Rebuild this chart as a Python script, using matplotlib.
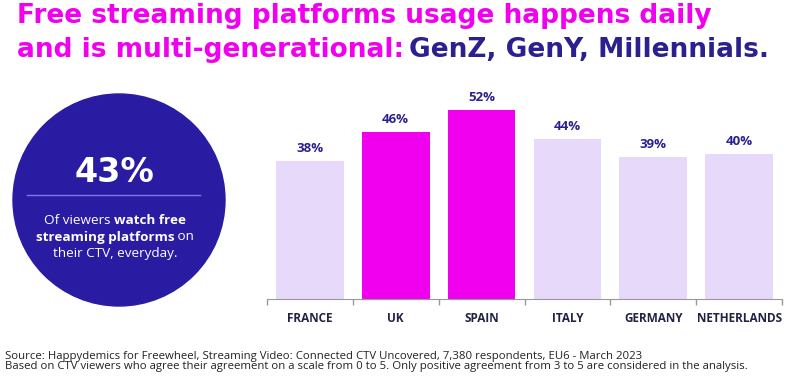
import matplotlib
matplotlib.use("Agg")
import matplotlib.pyplot as plt
from matplotlib.patches import Circle

countries = ["FRANCE", "UK", "SPAIN", "ITALY", "GERMANY", "NETHERLANDS"]
daily_pct = [38, 46, 52, 44, 39, 40]
highlight = [False, True, True, False, False, False]

headline_value = "43%"
title_1 = "Free streaming platforms usage happens daily"
title_2a = "and is multi-generational:"
title_2b = "GenZ, GenY, Millennials."
circle_lines = [
    [("Of viewers ", "normal"), ("watch free", "bold")],
    [("streaming platforms", "bold"), (" on", "normal")],
    [("their CTV, everyday.", "normal")],
]
footer_1 = "Source: Happydemics for Freewheel, Streaming Video: Connected CTV Uncovered, 7,380 respondents, EU6 - March 2023"
footer_2 = "Based on CTV viewers who agree their agreement on a scale from 0 to 5. Only positive agreement from 3 to 5 are considered in the analysis."

MAGENTA = "#F000EE"
LAVENDER = "#E7D9FA"
NAVY = "#2B2090"
CIRCLE = "#2A1BA3"
FONT = "Open Sans"

plt.rcParams["font.family"] = [FONT, "DejaVu Sans"]

W, H = 800, 378
fig = plt.figure(figsize=(8, 3.78), dpi=100)
renderer = fig.canvas.get_renderer()


def width_px(t):
    return t.get_window_extent(renderer).width


def fit(t, target):
    # scale the font so the text spans the target width in pixels
    t.set_fontsize(t.get_fontsize() * target / width_px(t))


# bar chart, positioned in pixels
ax = fig.add_axes([267 / W, 1 - 299 / H, (782 - 267) / W, (299 - 100) / H])
cols = [MAGENTA if h else LAVENDER for h in highlight]
x = range(len(countries))
bars = ax.bar(x, daily_pct, width=0.79, color=cols)
ax.set_xlim(-0.5, len(countries) - 0.5)
ax.set_ylim(0, 199 / 3.63)
for b, v in zip(bars, daily_pct):
    ax.annotate(f"{v}%", (b.get_x() + b.get_width() / 2, v), xytext=(0, 4.5),
                textcoords="offset points", ha="center", va="bottom",
                fontsize=9.5, fontweight="bold", color=NAVY)
ax.set_xticks(list(x))
ax.set_xticklabels(countries, fontsize=8.5, fontweight="bold", color="#222244")
ax.tick_params(axis="x", which="major", length=0, pad=9)
ax.set_xticks([i - 0.5 for i in range(len(countries) + 1)], minor=True)
ax.tick_params(axis="x", which="minor", length=4, color="#999999", width=1)
ax.set_yticks([])
for s in ["top", "left", "right"]:
    ax.spines[s].set_visible(False)
ax.spines["bottom"].set_color("#999999")

# overlay in pixel coords for circle and text
ov = fig.add_axes([0, 0, 1, 1], zorder=-1)
ov.set_xlim(0, W)
ov.set_ylim(H, 0)
ov.axis("off")
ov.add_patch(Circle((119, 200), 106, color=CIRCLE))
ov.text(114, 173, headline_value, ha="center", va="center", color="white",
        fontsize=24, fontweight="bold", family="DejaVu Sans")
ov.plot([27, 200], [195, 195], color="#7B79E6", lw=1)

# circle caption, built from normal/bold runs and centred by hand
for row, y in zip(circle_lines, [220, 237, 254]):
    parts = [ov.text(0, y, s, ha="left", va="center", color="white",
                     fontsize=9.7, fontweight=w) for s, w in row]
    widths = [width_px(p) for p in parts]
    x0 = 115 - sum(widths) / 2
    for p, wd in zip(parts, widths):
        p.set_x(x0)
        x0 += wd

# title
t1 = ov.text(17, 16, title_1, ha="left", va="center", color=MAGENTA,
             fontsize=17, fontweight="bold", family="DejaVu Sans")
fit(t1, 713 - 17)
fs = t1.get_fontsize()
t2 = ov.text(17, 50, title_2a, ha="left", va="center", color=MAGENTA,
             fontsize=fs, fontweight="bold", family="DejaVu Sans")
t3 = ov.text(17 + width_px(t2) + 5, 50, title_2b, ha="left", va="center",
             color=NAVY, fontsize=fs, fontweight="bold", family="DejaVu Sans")

f1 = ov.text(5, 356, footer_1, ha="left", va="center", fontsize=7,
             color="#222222")
f2 = ov.text(5, 367, footer_2, ha="left", va="center", fontsize=7,
             color="#222222")
fit(f2, 753 - 5)
f1.set_fontsize(f2.get_fontsize())

fig.savefig("out.png", dpi=100)
